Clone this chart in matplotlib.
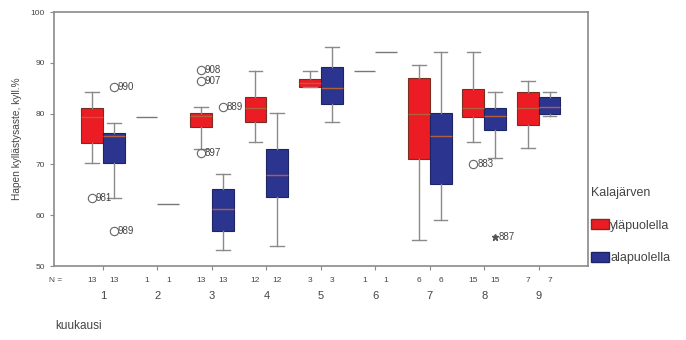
import matplotlib.pyplot as plt
from matplotlib.patches import Patch

plt.rcParams['font.family'] = ['Liberation Sans', 'DejaVu Sans']

months = [1, 2, 3, 4, 5, 6, 7, 8, 9]
n_upper = [13, 1, 13, 12, 3, 1, 6, 15, 7]
n_lower = [13, 1, 13, 12, 3, 1, 6, 15, 7]

# yläpuolella (red): box stats per month, None = single observation
up_med = [79.4, 79.4, 79.6, 81.2, 86.0, 88.3, 79.9, 81.2, 81.2]
up_q1 = [74.3, None, 77.3, 78.3, 85.2, None, 71.1, 79.4, 77.7]
up_q3 = [81.2, None, 80.2, 83.2, 86.8, None, 87.1, 84.9, 84.2]
up_lo = [70.3, None, 73.0, 74.4, 85.2, None, 55.1, 74.4, 73.3]
up_hi = [84.3, None, 81.4, 88.3, 88.3, None, 89.5, 92.2, 86.5]

# alapuolella (blue)
lo_med = [75.6, 62.3, 61.2, 67.9, 85.1, 92.2, 75.5, 79.6, 81.4]
lo_q1 = [70.3, None, 56.9, 63.5, 81.9, None, 66.2, 76.8, 79.9]
lo_q3 = [76.1, None, 65.2, 73.1, 89.1, None, 80.1, 81.2, 83.2]
lo_lo = [63.3, None, 53.2, 54.0, 78.3, None, 59.1, 71.3, 79.5]
lo_hi = [78.1, None, 68.2, 80.1, 93.2, None, 92.2, 84.3, 84.3]

# outliers: (month, series, value, case label)
outliers = [
    (1, 'up', 63.3, '981'),
    (1, 'lo', 85.2, '990'),
    (1, 'lo', 56.9, '989'),
    (3, 'up', 88.5, '908'),
    (3, 'up', 86.5, '907'),
    (3, 'up', 72.2, '897'),
    (3, 'lo', 81.3, '889'),
    (8, 'up', 70.1, '883'),
]
extremes = [(8, 'lo', 55.7, '887')]

RED = '#ec1c24'
BLUE = '#2b3590'
GREY = '#8a8a8a'
TXT = '#444444'
off = {'up': -0.2, 'lo': 0.2}

fig = plt.figure(figsize=(6.86, 3.40), dpi=100)
ax = fig.add_axes([0.0787, 0.2176, 0.778, 0.747])


def make_stats(med, q1, q3, lo, hi):
    stats, pos = [], []
    for m, a, b, c, d, e in zip(months, med, q1, q3, lo, hi):
        if b is None:
            continue
        stats.append(dict(med=a, q1=b, q3=c, whislo=d, whishi=e, fliers=[]))
        pos.append(m)
    return stats, pos


for key, color, edge, data in [
        ('up', RED, '#7a2e22', (up_med, up_q1, up_q3, up_lo, up_hi)),
        ('lo', BLUE, '#1c2463', (lo_med, lo_q1, lo_q3, lo_lo, lo_hi))]:
    stats, pos = make_stats(*data)
    ax.bxp(stats, positions=[p + off[key] for p in pos], widths=0.4,
           patch_artist=True, showfliers=False, capwidths=0.25,
           boxprops=dict(facecolor=color, edgecolor=edge, linewidth=0.8),
           medianprops=dict(color='#b0603a', linewidth=1.0),
           whiskerprops=dict(color=GREY, linewidth=1.0),
           capprops=dict(color=GREY, linewidth=1.0))
    # single observations drawn as a flat line
    med = data[0]
    for m, v, q in zip(months, med, data[1]):
        if q is None:
            ax.hlines(v, m + off[key] - 0.2, m + off[key] + 0.2,
                      color='#777777', linewidth=1.0)

for m, key, v, lab in outliers:
    x = m + off[key]
    ax.plot(x, v, marker='o', ms=6, mfc='none', mec='#666666', mew=0.8)
    ax.text(x + 0.07, v, lab, fontsize=7, color=TXT, va='center')
for m, key, v, lab in extremes:
    x = m + off[key]
    ax.plot(x, v, marker='*', ms=4.5, color='#555555', ls='none')
    ax.text(x + 0.07, v, lab, fontsize=7, color=TXT, va='center')

ax.set_xlim(0.1, 9.9)
ax.set_ylim(50, 100)
ax.set_yticks([50, 60, 70, 80, 90, 100])
ax.tick_params(axis='y', labelsize=6, colors=GREY, labelcolor=TXT, length=3)
ax.set_xticks(months)
ax.set_xticklabels([])
ax.tick_params(axis='x', colors=GREY, length=3)
for s in ax.spines.values():
    s.set_color(GREY)
    s.set_linewidth(1.2)

ax.set_ylabel('Hapen kyllästysaste, kyll.%', fontsize=7.3, color=TXT, labelpad=6)

# N counts and month numbers under the axis
trans = ax.get_xaxis_transform()
ax.text(0.13, -0.045, 'N =', transform=trans, fontsize=6, color=TXT,
        ha='center', va='top')
for m, a, b in zip(months, n_upper, n_lower):
    ax.text(m - 0.2, -0.045, str(a), transform=trans, fontsize=6,
            color=TXT, ha='center', va='top')
    ax.text(m + 0.2, -0.045, str(b), transform=trans, fontsize=6,
            color=TXT, ha='center', va='top')
    ax.text(m, -0.10, str(m), transform=trans, fontsize=8, color=TXT,
            ha='center', va='top')
fig.text(0.08, 0.04, 'kuukausi', fontsize=8.5, color=TXT, va='center')

handles = [Patch(facecolor=RED, edgecolor='#7a2e22', label='yläpuolella'),
           Patch(facecolor=BLUE, edgecolor='#1c2463', label='alapuolella')]
leg = fig.legend(handles=handles, title='Kalajärven', loc='upper left',
                 bbox_to_anchor=(0.862, 0.45), frameon=False, fontsize=9,
                 title_fontsize=9, alignment='left', labelspacing=1.6,
                 handlelength=1.4, handleheight=0.9, handletextpad=0.1,
                 borderaxespad=0, borderpad=0)
for t in leg.get_texts():
    t.set_color(TXT)
leg.get_title().set_color(TXT)

fig.savefig('out.png', dpi=100)
